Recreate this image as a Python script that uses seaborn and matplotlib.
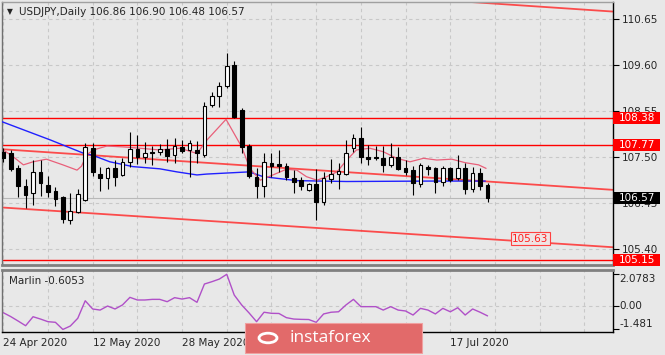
import matplotlib
matplotlib.use("Agg")
import matplotlib.pyplot as plt
import matplotlib.patches as mpatches
import matplotlib.transforms as mtrans
import numpy as np
import pandas as pd
import seaborn as sns

# daily candles, 24 Apr 2020 .. 24 Jul 2020 (bar index 0..65)
opens = [107.61, 107.59, 107.24, 106.84, 106.68, 107.16, 106.86, 106.73, 106.58, 106.06,
         106.25, 106.52, 107.70, 107.11, 107.01, 107.24, 107.09, 107.39, 107.68, 107.51,
         107.62, 107.61, 107.69, 107.55, 107.72, 107.65, 107.67, 107.55, 108.68, 108.89,
         109.12, 109.60, 108.57, 107.75, 107.05, 106.84, 107.37, 107.33, 107.29, 107.01,
         106.97, 106.75, 106.88, 106.48, 106.99, 107.11, 107.11, 107.70, 107.93, 107.51,
         107.51, 107.47, 107.32, 107.51, 107.24, 107.20, 106.88, 107.28, 107.24, 106.94,
         107.24, 107.01, 107.24, 106.76, 107.14, 106.86]
highs = [107.71, 107.66, 107.32, 107.00, 107.43, 107.42, 107.07, 106.81, 106.61, 106.68,
         106.76, 107.82, 107.82, 107.28, 107.28, 107.42, 107.48, 108.08, 108.00, 107.85,
         107.75, 107.80, 107.92, 107.93, 107.89, 107.89, 107.86, 108.76, 108.99, 109.22,
         109.87, 109.70, 108.61, 107.80, 107.24, 107.58, 107.60, 107.66, 107.36, 107.20,
         107.05, 106.91, 107.22, 107.16, 107.45, 107.37, 107.89, 108.03, 108.19, 107.77,
         107.75, 107.75, 107.81, 107.72, 107.43, 107.29, 107.36, 107.32, 107.28, 107.29,
         107.28, 107.54, 107.36, 107.28, 107.24, 106.90]
lows = [107.39, 107.18, 106.59, 106.33, 106.40, 106.61, 106.59, 106.38, 105.99, 105.97,
        106.23, 106.50, 107.07, 106.73, 106.78, 106.84, 107.07, 107.28, 107.34, 107.36,
        107.32, 107.55, 107.38, 107.36, 107.58, 107.05, 107.37, 107.51, 108.65, 108.65,
        109.07, 108.38, 107.58, 107.01, 106.56, 106.58, 107.05, 107.16, 106.97, 106.67,
        106.75, 106.73, 106.06, 106.40, 106.90, 106.78, 107.09, 107.62, 107.36, 107.32,
        107.43, 107.16, 107.28, 107.20, 107.09, 106.63, 106.82, 107.09, 106.67, 106.84,
        106.94, 106.97, 106.65, 106.71, 106.75, 106.48]
closes = [107.48, 107.23, 106.84, 106.63, 107.16, 106.91, 106.71, 106.54, 106.08, 106.27,
          106.65, 107.72, 107.16, 107.01, 107.24, 107.05, 107.39, 107.68, 107.51, 107.58,
          107.59, 107.69, 107.52, 107.75, 107.64, 107.81, 107.58, 108.66, 108.89, 109.12,
          109.58, 108.41, 107.73, 107.07, 106.84, 107.39, 107.29, 107.30, 107.05, 106.94,
          106.84, 106.88, 106.48, 107.01, 107.11, 107.19, 107.58, 107.93, 107.51, 107.45,
          107.47, 107.32, 107.49, 107.22, 107.16, 106.90, 107.32, 107.23, 106.94, 107.24,
          106.97, 107.24, 106.76, 107.14, 106.84, 106.57]

# fast moving average (pink), vertices
fast_bar = [0, 1.3, 2.7, 4, 5.8, 8, 9.9, 10.5, 11.2, 12.1, 13.9, 16.1, 18.3, 21, 23.7, 26,
            27.3, 29.9, 32, 33.1, 34.5, 36.2, 38, 39.4, 40.7, 42.1, 43.4, 44.8, 46.1, 47.4,
            49.2, 51, 52.8, 54.6, 56.4, 58.2, 60.2, 62, 63.8, 64.8]
fast_val = [107.66, 107.51, 107.32, 107.39, 107.45, 107.32, 107.20, 107.29, 107.55, 107.66,
            107.75, 107.73, 107.70, 107.66, 107.70, 107.58, 107.88, 108.36, 107.73, 107.24,
            106.97, 107.09, 107.22, 107.20, 107.05, 106.97, 107.05, 107.16, 107.43, 107.66,
            107.70, 107.62, 107.47, 107.39, 107.47, 107.43, 107.45, 107.37, 107.32, 107.24]

# slow moving average (blue)
slow_bar = [-0.4, 6.3, 10.7, 12, 14.3, 17.4, 21, 23.3, 26, 27.3, 33, 34.9, 39.4, 46.1, 57.3, 64.7]
slow_val = [108.32, 107.89, 107.59, 107.54, 107.39, 107.28, 107.23, 107.16, 107.09, 107.11,
            107.16, 107.05, 106.96, 106.94, 106.95, 106.95]

# channel lines (anchor bar, price)
chan_bar = [-0.44, 81.8]
chan_top = [111.76, 110.82]
chan_mid = [107.68, 106.75]
chan_low = [106.35, 105.44]

levels = [108.38, 107.77, 105.15]
last_price = 106.57
price_ticks = [110.65, 109.60, 108.55, 107.50, 106.45, 105.40]

marlin = [-0.40, -0.65, -0.94, -1.24, -0.66, -0.81, -0.98, -1.02, -1.481, -1.26,
          -0.76, 0.37, -0.16, -0.23, 0.03, -0.16, 0.10, 0.59, 0.42, 0.42,
          0.46, 0.46, 0.31, 0.57, 0.48, 0.57, 0.27, 1.45, 1.60, 1.77,
          2.0783, 0.74, 0.10, -0.42, -0.98, -0.37, -0.44, -0.45, -0.72, -0.81,
          -0.83, -0.84, -1.02, -0.48, -0.37, -0.34, 0.10, 0.46, -0.01, -0.01,
          -0.01, -0.23, -0.01, -0.23, -0.29, -0.55, -0.12, -0.23, -0.48, -0.12,
          -0.34, -0.08, -0.55, -0.16, -0.37, -0.6053]
marlin_ticks = [2.0783, 0.0, -1.481]

# labels hidden under the watermark in the source are left out
date_bars = [0, 12, 24, 60]
date_labels = ["24 Apr 2020", "12 May 2020", "28 May 2020", "17 Jul 2020"]

sns.set_style("white")
plt.rcParams['font.family'] = ['DejaVu Sans']
plt.rcParams['font.size'] = 7.5

bg = '#e8e8e8'
W, H = 665, 355
fig = plt.figure(figsize=(W / 100, H / 100), dpi=100, facecolor=bg)
ax = fig.add_axes([2 / W, 1 - 265 / H, 611 / W, 263 / H], facecolor=bg)
sub = fig.add_axes([2 / W, 1 - 331.5 / H, 611 / W, 62 / H], facecolor=bg)

xlim = (-0.17, 81.84)
grid_kw = dict(color='#c8c8c8', lw=0.8, ls=(0, (3, 3)), zorder=0)

# ---- price panel
ax.set_xlim(*xlim)
ax.set_ylim(105.034, 111.038)
for b in range(0, 82, 6):
    ax.axvline(b, **grid_kw)
    sub.axvline(b, **grid_kw)
for p in price_ticks:
    ax.axhline(p, **grid_kw)
ax.axhline(last_price, color='#b8b8b8', lw=0.8, zorder=1)

for lv in levels:
    ax.axhline(lv, color='#ff0000', lw=1, zorder=2)
for line in (chan_top, chan_mid, chan_low):
    ax.plot(chan_bar, line, color='#ff3030', lw=1.3, alpha=0.85, zorder=2)

sns.lineplot(x=slow_bar, y=slow_val, ax=ax, color='#2020ff', lw=1, zorder=3, legend=False)
sns.lineplot(x=fast_bar, y=fast_val, ax=ax, color='#e8607a', lw=0.9, zorder=3, legend=False)

df = pd.DataFrame({'o': opens, 'h': highs, 'l': lows, 'c': closes})
df['bar'] = np.arange(len(df))
up = df.c >= df.o
ax.vlines(df.bar, df.l, df.h, color='black', lw=0.8, zorder=4)
body_lo = np.minimum(df.o, df.c)
body_h = np.maximum((df.c - df.o).abs(), 0.012)
ax.bar(df.bar, body_h, bottom=body_lo, width=0.5,
       color=np.where(up, 'white', 'black'), edgecolor='black', linewidth=0.8, zorder=5)

# 105.63 label on the lower channel line
ax.text(68.3, 105.63, "105.63", color='#ff2020', fontsize=7.5, ha='left', va='center', zorder=6,
        bbox=dict(boxstyle='square,pad=0.15', fc='#efe4e4', ec='#ff4040', lw=0.8))

ax.yaxis.tick_right()
ax.set_yticks(price_ticks)
ax.set_yticklabels([f"{p:.2f}" for p in price_ticks])
ax.tick_params(axis='y', direction='out', length=4, width=0.8, color='black', pad=2, labelsize=7.5)
ax.set_xticks([])
ax.set_xlabel('')
ax.set_ylabel('')

blend = mtrans.blended_transform_factory(ax.transAxes, ax.transData)
ppx = (111.038 - 105.034) / 263
for val, fc in [(108.38, '#ff0000'), (107.77, '#ff0000'), (105.15, '#ff0000'), (last_price, '#000000')]:
    ax.add_patch(mpatches.Rectangle((1.0, val - 6 * ppx), 47 / 611, 12 * ppx, transform=blend,
                                    fc=fc, ec='none', clip_on=False, zorder=10))
    ax.text(1 + 6 / 611, val, f"{val:.2f}", transform=blend, color='white', fontsize=7.5,
            ha='left', va='center', clip_on=False, zorder=11)

for side, col, lw in [('left', '#707070', 1), ('top', '#a0a0a0', 1), ('right', 'black', 1), ('bottom', '#808080', 2)]:
    ax.spines[side].set_visible(True)
    ax.spines[side].set_color(col)
    ax.spines[side].set_linewidth(lw)

# ---- Marlin panel
sub.set_xlim(*xlim)
sub.set_ylim(-1.613, 2.387)
sub.axhline(0, **grid_kw)
sns.lineplot(x=np.arange(len(marlin)), y=marlin, ax=sub, color='#b050c8', lw=1, legend=False)
sub.text(7 / 611, 0.82, "Marlin -0.6053", transform=sub.transAxes, ha='left', va='center', fontsize=7.5)

sub.yaxis.tick_right()
sub.set_yticks(marlin_ticks)
sub.set_yticklabels([])
sub.tick_params(axis='y', direction='out', length=4, width=0.8, color='black')
sblend = mtrans.blended_transform_factory(sub.transAxes, sub.transData)
for val, txt, va in [(2.0783, "2.0783", 'top'), (0.0, "0.00", 'center'), (-1.481, "-1.481", 'bottom')]:
    sub.text(1 + 6 / 611, val, txt, transform=sblend, ha='left', va=va, fontsize=7.5, clip_on=False)

sub.set_xticks(date_bars)
sub.set_xticklabels(date_labels, ha='left')
sub.tick_params(axis='x', direction='out', length=3, width=0.8, color='black', pad=2, labelsize=7.5)
sub.set_xlabel('')
sub.set_ylabel('')
for side, col, lw in [('left', '#707070', 1), ('top', '#808080', 2), ('right', 'black', 1), ('bottom', 'black', 1)]:
    sub.spines[side].set_visible(True)
    sub.spines[side].set_color(col)
    sub.spines[side].set_linewidth(lw)

# ---- header and watermark
fig.text(7 / W, 1 - 12 / H, "\u25bc", fontsize=5.5, va='center', ha='left')
fig.text(19 / W, 1 - 12 / H, "USDJPY,Daily 106.86 106.90 106.48 106.57", fontsize=7.5, va='center', ha='left')

fig.patches.append(mpatches.Rectangle((245 / W, 1 - 353 / H), 177 / W, 30 / H, transform=fig.transFigure,
                                      fc='#e26a6a', ec='#f0a0a0', lw=0.8, zorder=20))
fig.patches.append(mpatches.Circle((268 / W, 1 - 338 / H), 9 / W, transform=fig.transFigure,
                                   fc='none', ec='white', lw=2, zorder=21))
fig.text(290 / W, 1 - 338 / H, "instaforex", color='white', fontsize=12.5, family=['Open Sans', 'DejaVu Sans'],
         va='center', ha='left', zorder=22)

fig.savefig("out.png", dpi=100, facecolor=bg)
